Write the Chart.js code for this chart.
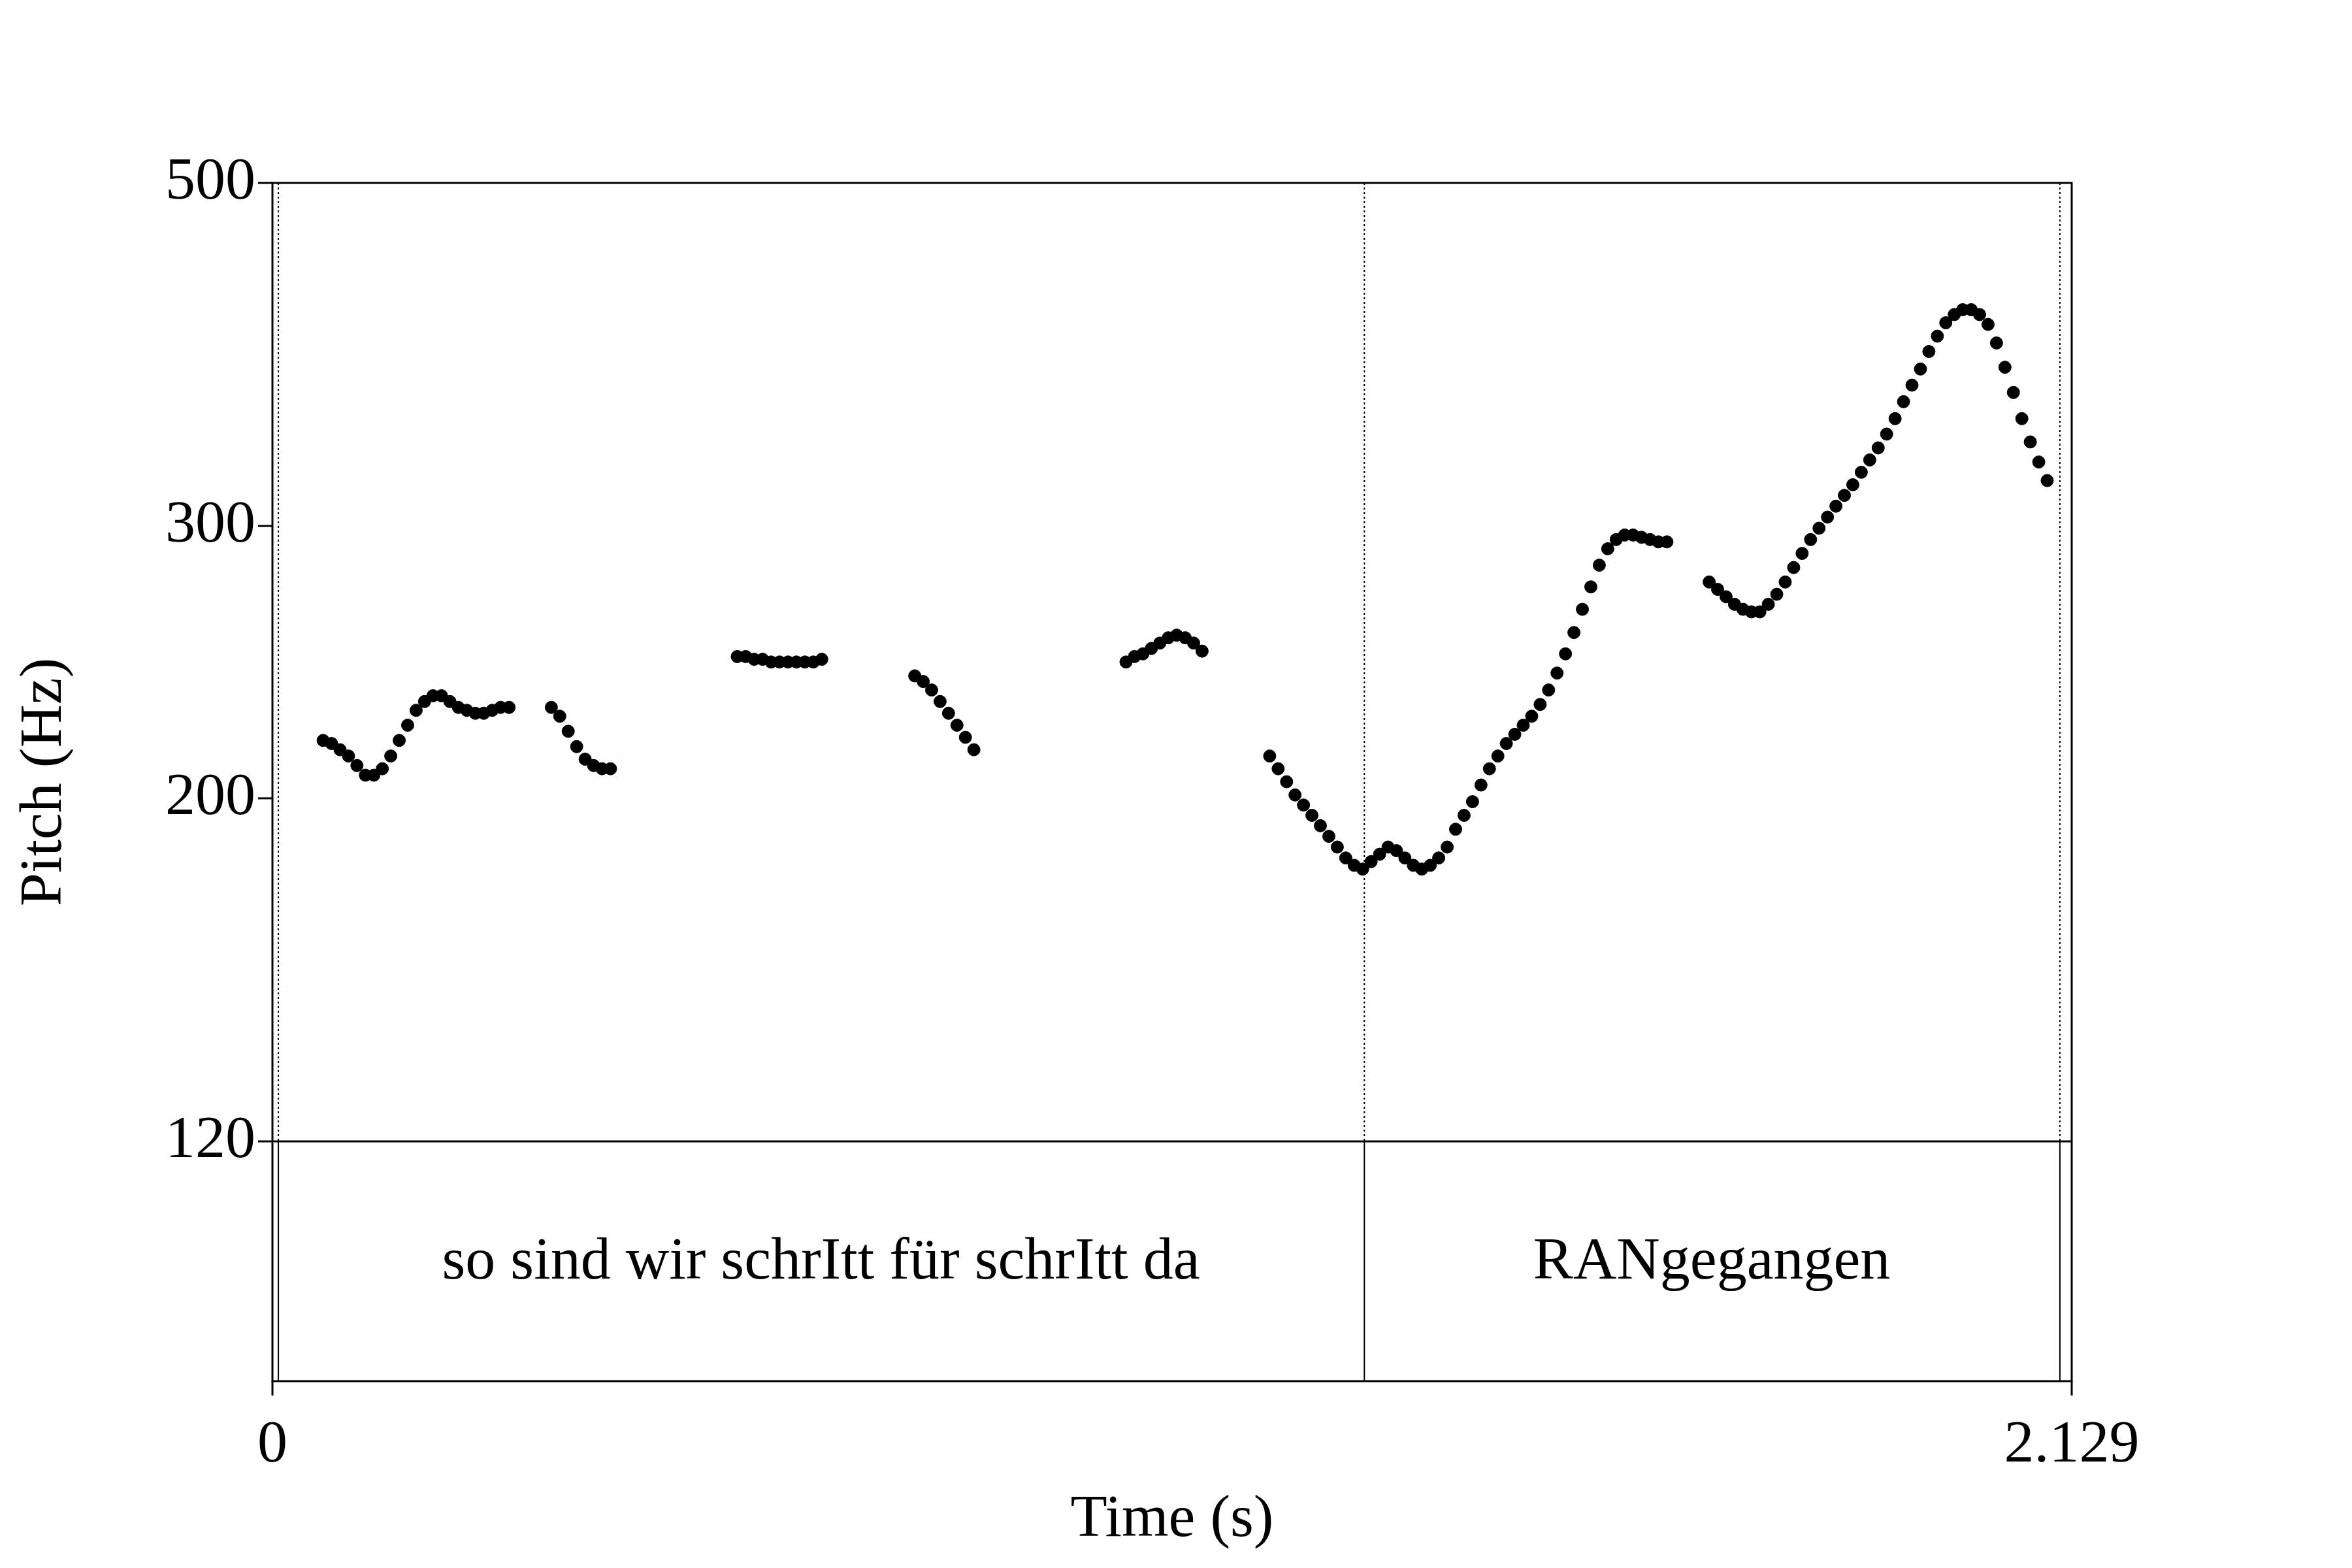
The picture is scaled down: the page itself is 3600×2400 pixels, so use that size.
<!DOCTYPE html>
<html>
<head>
<meta charset="utf-8">
<script src="https://cdn.jsdelivr.net/npm/chart.js@4/dist/chart.umd.min.js"></script>
<style>
  body { margin: 0; background: #fff; }
  #wrap { width: 3600px; height: 2400px; }
</style>
</head>
<body>
<div id="wrap"><canvas id="c" width="3600" height="2400"></canvas></div>
<script>
// Pitch segments (Praat time step 0.01 s)
const segStarts = [0.06, 0.33, 0.55, 0.76, 1.01, 1.18, 1.70];
const seg1 = [218, 217, 215, 213, 210, 207, 207, 209, 213, 218, 223, 228, 231, 233, 233, 231, 229, 228, 227, 227, 228, 229, 229];
const seg2 = [229, 226, 221, 216, 212, 210, 209, 209];
const seg3 = [247, 247, 246, 246, 245, 245, 245, 245, 245, 245, 246];
const seg4 = [240, 238, 235, 231, 227, 223, 219, 215];
const seg5 = [245, 247, 248, 250, 252, 254, 255, 254, 252, 249];
const seg6 = [213, 209, 205, 201, 198, 195, 192, 189, 186, 183, 181, 180, 182, 184, 186, 185, 183, 181, 180, 181,
  183, 186, 191, 195, 199, 204, 209, 213, 217, 220, 223, 226, 230, 235, 241, 248, 256, 265, 274, 283,
  290, 294, 296, 296, 295, 294, 293, 293];
const seg7 = [276, 273, 270, 267, 265, 264, 264, 267, 271, 276, 282, 288, 294, 299, 304, 309, 314, 319, 325, 331,
  337, 344, 352, 361, 370, 379, 389, 398, 406, 411, 414, 414, 411, 405, 394, 380, 366, 352, 340, 330, 321];
const segments = [seg1, seg2, seg3, seg4, seg5, seg6, seg7];

const yTicks = [120, 200, 300, 500];
const tierBounds = [0, 0.007, 1.292, 2.115, 2.129];
const tierLabels = ["so sind wir schrItt für schrItt da", "RANgegangen"];
const tierCenters = [0.649, 1.703];
const xTickLabels = ["0", "2.129"];
const xTickValues = [0, 2.129];

const points = [];
segments.forEach((seg, i) => {
  seg.forEach((v, j) => points.push({ x: segStarts[i] + j * 0.01, y: v }));
});

const FONT = '92px "Liberation Serif", "Times New Roman", serif';
const TOP = 280, PITCH_BOTTOM = 1747, BOTTOM = 2114;

const praatPlugin = {
  id: "praat",
  afterDraw(chart) {
    const ctx = chart.ctx;
    const xs = chart.scales.x, ys = chart.scales.y;
    const L = xs.getPixelForValue(0), R = xs.getPixelForValue(2.129);
    ctx.save();
    ctx.strokeStyle = "#000";
    ctx.fillStyle = "#000";
    ctx.lineWidth = 3;
    ctx.strokeRect(L, TOP, R - L, BOTTOM - TOP);
    ctx.beginPath();
    ctx.moveTo(L, PITCH_BOTTOM); ctx.lineTo(R, PITCH_BOTTOM);
    ctx.stroke();
    // tier boundaries
    ctx.lineWidth = 2;
    tierBounds.forEach((t) => {
      const px = xs.getPixelForValue(t);
      ctx.setLineDash([]);
      ctx.beginPath(); ctx.moveTo(px, PITCH_BOTTOM); ctx.lineTo(px, BOTTOM); ctx.stroke();
      ctx.setLineDash([3, 4]);
      ctx.beginPath(); ctx.moveTo(px, TOP); ctx.lineTo(px, PITCH_BOTTOM); ctx.stroke();
    });
    ctx.setLineDash([]);
    ctx.lineWidth = 3;
    ctx.font = FONT;
    // y ticks
    ctx.textAlign = "right"; ctx.textBaseline = "middle";
    yTicks.forEach((v) => {
      const py = ys.getPixelForValue(v);
      ctx.beginPath(); ctx.moveTo(L - 22, py); ctx.lineTo(L, py); ctx.stroke();
      ctx.fillText(String(v), L - 26, py);
    });
    // x ticks
    ctx.textAlign = "center";
    xTickValues.forEach((v, i) => {
      const px = xs.getPixelForValue(v);
      ctx.beginPath(); ctx.moveTo(px, BOTTOM); ctx.lineTo(px, BOTTOM + 22); ctx.stroke();
      ctx.fillText(xTickLabels[i], px, 2213);
    });
    ctx.fillText("Time (s)", (L + R) / 2, 2327);
    // tier text
    tierLabels.forEach((s, i) => {
      ctx.fillText(s, xs.getPixelForValue(tierCenters[i]), 1933);
    });
    // y title
    ctx.translate(69, 1197);
    ctx.rotate(-Math.PI / 2);
    ctx.fillText("Pitch (Hz)", 0, 0);
    ctx.restore();
  },
};

new Chart(document.getElementById("c").getContext("2d"), {
  type: "scatter",
  data: {
    datasets: [{
      data: points,
      backgroundColor: "#000",
      borderColor: "#000",
      pointRadius: 9.5,
      pointHoverRadius: 9.5,
    }],
  },
  options: {
    responsive: false,
    animation: false,
    devicePixelRatio: 1,
    layout: { padding: { left: 417, right: 429, top: TOP, bottom: 2400 - PITCH_BOTTOM } },
    plugins: { legend: { display: false }, tooltip: { enabled: false } },
    scales: {
      x: { type: "linear", min: 0, max: 2.129, display: false },
      y: { type: "logarithmic", min: 120, max: 500, display: false },
    },
  },
  plugins: [praatPlugin],
});
</script>
</body>
</html>
